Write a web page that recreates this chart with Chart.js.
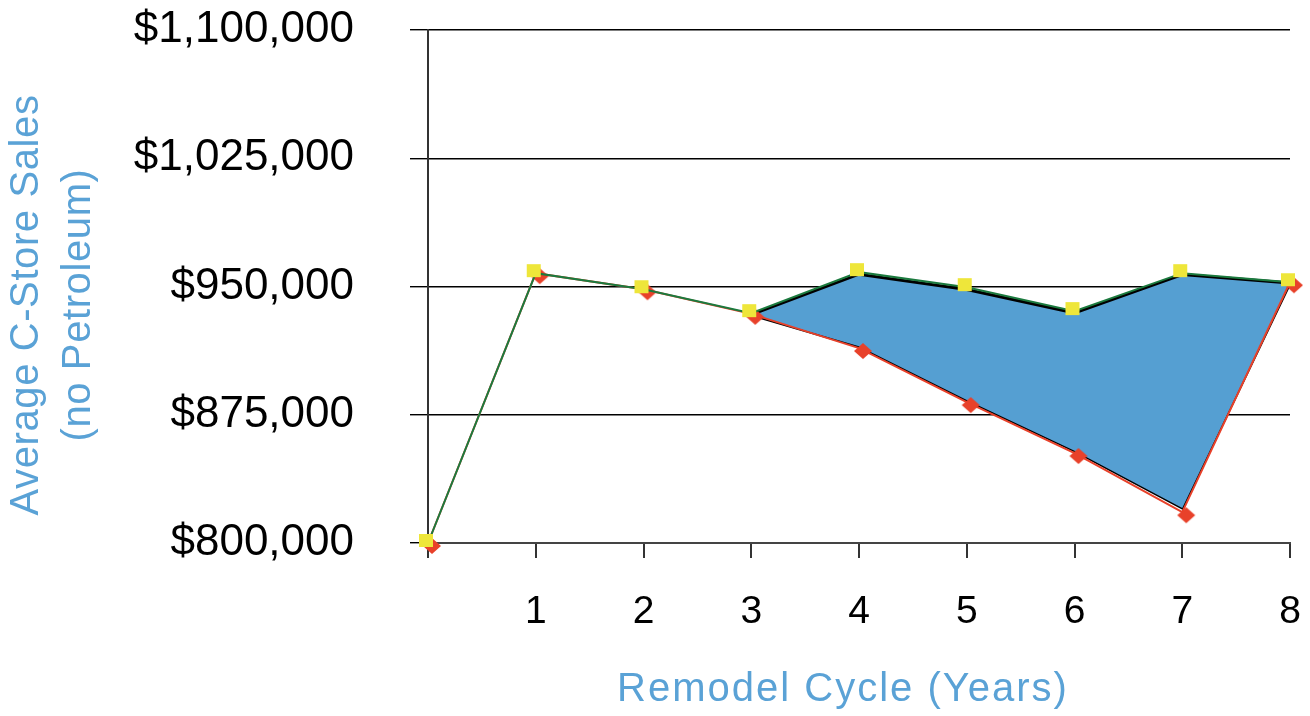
<!DOCTYPE html>
<html>
<head>
<meta charset="utf-8">
<script src="https://cdn.jsdelivr.net/npm/chart.js@4"></script>
<style>
  html, body { margin: 0; padding: 0; background: #fff; }
  #wrap { width: 1310px; height: 716px; }
</style>
</head>
<body>
<div id="wrap"><canvas id="grafico" width="1310" height="716"></canvas></div>
<script>
// Datos
const years = [0, 1, 2, 3, 4, 5, 6, 7, 8];
const remodelSales = [800000, 957800, 948400, 934400, 958400, 949600, 935600, 957800, 952500];
const noRemodelSales = [800000, 957800, 948400, 934000, 914000, 882400, 852600, 818000, 952500];
// contorno negro de la zona sombreada (anos 3 a 8)
const bandTop = [null, null, null, 933500, 957200, 948200, 934600, 957000, 952000];
const bandBottom = [null, null, null, 933500, 915000, 883600, 854000, 820500, 952000];
const yTicks = [800000, 875000, 950000, 1025000, 1100000];

const FONT = "'Liberation Sans', Arial, Helvetica, sans-serif";
const AZUL = '#5aa2d6';

const pts = arr => years.map((x, i) => ({ x: x, y: arr[i] }));

// marcadores: cuadrado amarillo y rombo rojo, un poco desplazados como en el original
function marcador(dibujar) {
  const cv = document.createElement('canvas');
  cv.width = 40; cv.height = 40;
  dibujar(cv.getContext('2d'));
  return cv;
}
const cuadrado = marcador(c => {
  c.fillStyle = '#eee63a';
  c.fillRect(20 - 2 - 7, 20 - 3 - 6, 14, 13);
});
const rombo = marcador(c => {
  const cx = 24, cy = 23;
  c.fillStyle = '#e8412a';
  c.beginPath();
  c.moveTo(cx - 9, cy); c.lineTo(cx, cy - 8); c.lineTo(cx + 9, cy); c.lineTo(cx, cy + 8);
  c.closePath();
  c.fill();
});

// titulos de ejes dibujados a mano para ubicarlos igual que el original
const axisTitles = {
  id: 'axisTitles',
  afterDraw(chart) {
    const c = chart.ctx;
    c.save();
    c.fillStyle = AZUL;
    c.font = '40px ' + FONT;
    c.textAlign = 'center';
    c.textBaseline = 'middle';
    c.letterSpacing = '2px';
    c.fillText('Remodel Cycle (Years)', 843, 690);
    c.letterSpacing = '0.6px';
    c.translate(0, 305);
    c.rotate(-Math.PI / 2);
    c.fillText('Average C-Store Sales', 0, 27);
    c.fillText('(no Petroleum)', 0, 79);
    c.restore();
  }
};

// quita el relleno automatico que Chart.js agrega por las etiquetas
const sinRelleno = s => {
  s.paddingTop = 0; s.paddingBottom = 0; s.paddingLeft = 0; s.paddingRight = 0;
};

new Chart(document.getElementById('grafico').getContext('2d'), {
  type: 'line',
  data: {
    datasets: [
      {
        label: 'bandBottom',
        data: pts(bandBottom),
        borderColor: '#000',
        borderWidth: 3,
        pointRadius: 0,
        fill: false,
        order: 4
      },
      {
        label: 'bandTop',
        data: pts(bandTop),
        borderColor: '#000',
        borderWidth: 3,
        pointRadius: 0,
        backgroundColor: '#559fd2',
        fill: '-1',
        order: 3
      },
      {
        label: 'Sin remodelar',
        data: pts(noRemodelSales),
        borderColor: '#e8412a',
        borderWidth: 2,
        pointStyle: rombo,
        pointRadius: 10,
        fill: false,
        order: 2
      },
      {
        label: 'Remodelado',
        data: pts(remodelSales),
        borderColor: '#1b7a3e',
        borderWidth: 2,
        pointStyle: cuadrado,
        pointRadius: 10,
        fill: false,
        order: 1
      }
    ]
  },
  options: {
    responsive: false,
    animation: false,
    clip: false,
    layout: { padding: { top: 30, right: 20, bottom: 0, left: 0 } },
    plugins: {
      legend: { display: false },
      tooltip: { enabled: false }
    },
    scales: {
      x: {
        type: 'linear',
        min: 0,
        max: 8,
        afterFit: s => { s.height = 173; sinRelleno(s); },
        afterBuildTicks: s => { s.ticks = years.map(v => ({ value: v })); },
        ticks: {
          color: '#000',
          font: { family: FONT, size: 39 },
          padding: 31,
          maxRotation: 0,
          callback: v => (v === 0 ? '' : String(v))
        },
        grid: {
          drawOnChartArea: false,
          drawTicks: true,
          tickLength: 15,
          color: '#333',
          lineWidth: 2
        },
        border: { color: '#444', width: 2 }
      },
      y: {
        min: 800000,
        max: 1100000,
        afterFit: s => { s.width = 428; sinRelleno(s); },
        afterBuildTicks: s => { s.ticks = yTicks.map(v => ({ value: v })); },
        ticks: {
          color: '#000',
          font: { family: FONT, size: 44 },
          padding: 56,
          callback: v => '$' + v.toLocaleString('en-US')
        },
        grid: {
          color: '#000',
          lineWidth: 1.4,
          drawTicks: true,
          tickLength: 18
        },
        border: { color: '#333', width: 2 }
      }
    }
  },
  plugins: [axisTitles]
});
</script>
</body>
</html>
